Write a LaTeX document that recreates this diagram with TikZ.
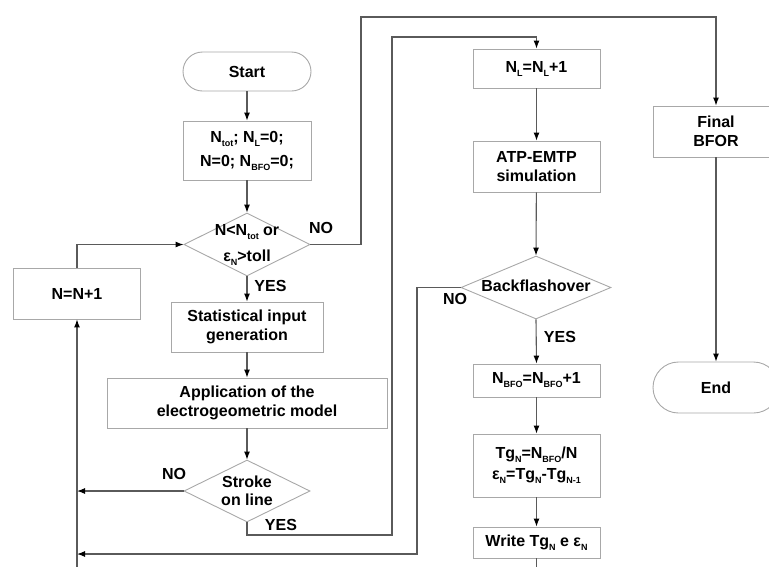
\documentclass[tikz,border=0pt]{standalone}
\usepackage{fontspec}
\setmainfont{Liberation Sans}
\usetikzlibrary{shapes.geometric,arrows.meta}
\definecolor{boxgray}{HTML}{A8A8A8}
\definecolor{linegray}{HTML}{5A5A5A}
\newcommand\sbs[1]{\raisebox{-4pt}{\fontsize{9}{9}\selectfont #1}}
\tikzset{
  txt/.style={font=\fontsize{16}{18.5}\selectfont\bfseries, align=center, inner sep=0pt, text=black},
  boxnode/.style={txt, draw=boxgray, line width=0.9pt, rectangle},
  termnode/.style={boxnode},
  dianode/.style={diamond, draw=boxgray, line width=0.9pt, inner sep=0pt},
  lbl/.style={txt},
  conn/.style={draw=linegray, line width=1.1pt, -{Latex[length=8pt,width=6pt,color=black]}},
  plain/.style={draw=linegray, line width=1.1pt},
}
\begin{document}
\begin{tikzpicture}[x=1pt,y=-1pt]
\useasboundingbox (0,0) rectangle (769,566);
\clip (0,0) rectangle (769,566);

% left column
\node[termnode, minimum width=128pt, minimum height=39pt, rounded corners=19.5pt] (start) at (247,71.5) {Start};
\node[boxnode, minimum width=128pt, minimum height=59pt] (box1) at (247,150.5) {N\sbs{tot}; N\sbs{L}=0;\\[5.5pt]N=0; N\sbs{BFO}=0;};
\node[dianode, minimum width=126pt, minimum height=63pt] (d1) at (247,244.5) {};
\node[txt] (d1t) at (247,245) {N<N\sbs{tot} or\\[7.5pt]ε\sbs{N}>toll};
\node[boxnode, minimum width=127pt, minimum height=51pt] (nn1) at (77,293.5) {N=N+1};
\node[boxnode, minimum width=152pt, minimum height=50pt] (stat) at (247,327) {Statistical input\\generation};
\node[boxnode, minimum width=280pt, minimum height=50pt] (app) at (247,403) {Application of the\\electrogeometric model};
\node[dianode, minimum width=126pt, minimum height=62pt] (d2) at (247,491) {};
\node[txt] (d2t) at (247,491) {Stroke\\on line};

% middle column
\node[boxnode, minimum width=127pt, minimum height=39pt] (nl) at (536.5,68.5) {N\sbs{L}=N\sbs{L}+1};
\node[boxnode, minimum width=127pt, minimum height=51pt] (atp) at (536.5,166.5) {ATP-EMTP\\simulation};
\node[dianode, minimum width=150pt, minimum height=63pt] (d3) at (536,287.5) {};
\node[txt] (d3t) at (536,286) {Backflashover};
\node[boxnode, minimum width=127pt, minimum height=33pt] (nbfo) at (536.5,380.5) {N\sbs{BFO}=N\sbs{BFO}+1};
\node[boxnode, minimum width=127pt, minimum height=63pt] (tg) at (536.5,465.5) {Tg\sbs{N}=N\sbs{BFO}/N\\[2.5pt]ε\sbs{N}=Tg\sbs{N}-Tg\sbs{N-1}};
\node[boxnode, minimum width=127pt, minimum height=31pt] (write) at (536.5,542.5) {Write Tg\sbs{N} e ε\sbs{N}};

% right column
\node[boxnode, minimum width=126pt, minimum height=51pt] (final) at (716,131.5) {Final\\BFOR};
\node[termnode, minimum width=126pt, minimum height=51pt, rounded corners=25.5pt] (end) at (716,387.5) {End};

% labels
\node[lbl] (l1) at (321,228) {NO};
\node[lbl] (l2) at (270.5,286) {YES};
\node[lbl] (l3) at (174,474) {NO};
\node[lbl] (l4) at (281,525) {YES};
\node[lbl] (l5) at (455,299) {NO};
\node[lbl] (l6) at (560,337) {YES};

% coordinates
\coordinate (bot) at (77,570);
\coordinate (wbot) at (536.5,570);

% connectors
\draw[conn] (start) -- (box1);
\draw[conn] (box1) -- (d1);
\draw[conn] (d1.east) -- (361,244.5) -- (361,17) -- (716,17) -- (final.north);
\draw[conn] (nn1.north) -- (nn1.north |- d1.west) -- (d1.west);
\draw[conn] (d1.south) -- (stat.north);
\draw[conn] (stat) -- (app);
\draw[conn] (app) -- (d2);
\draw[conn] (d2.west) -- (d2.west -| nn1.south);
\draw[conn] (d2.south) -- (247,535) -- (392,535) -- (392,37) -- (536.5,37) -- (nl.north);
\draw[conn] (nl) -- (atp);
\draw[conn] (atp) -- (d3.north);
\draw[conn] (d3.west) -- (417,287.5) -- (417,554) -- (77,554);
\draw[conn] (d3.south) -- (nbfo.north);
\draw[conn] (nbfo) -- (tg);
\draw[conn] (tg) -- (write);
\draw[plain] (write.south) -- (wbot);
\draw[conn] (bot) -- (nn1.south);
\draw[conn] (final) -- (end);
\end{tikzpicture}
\end{document}
